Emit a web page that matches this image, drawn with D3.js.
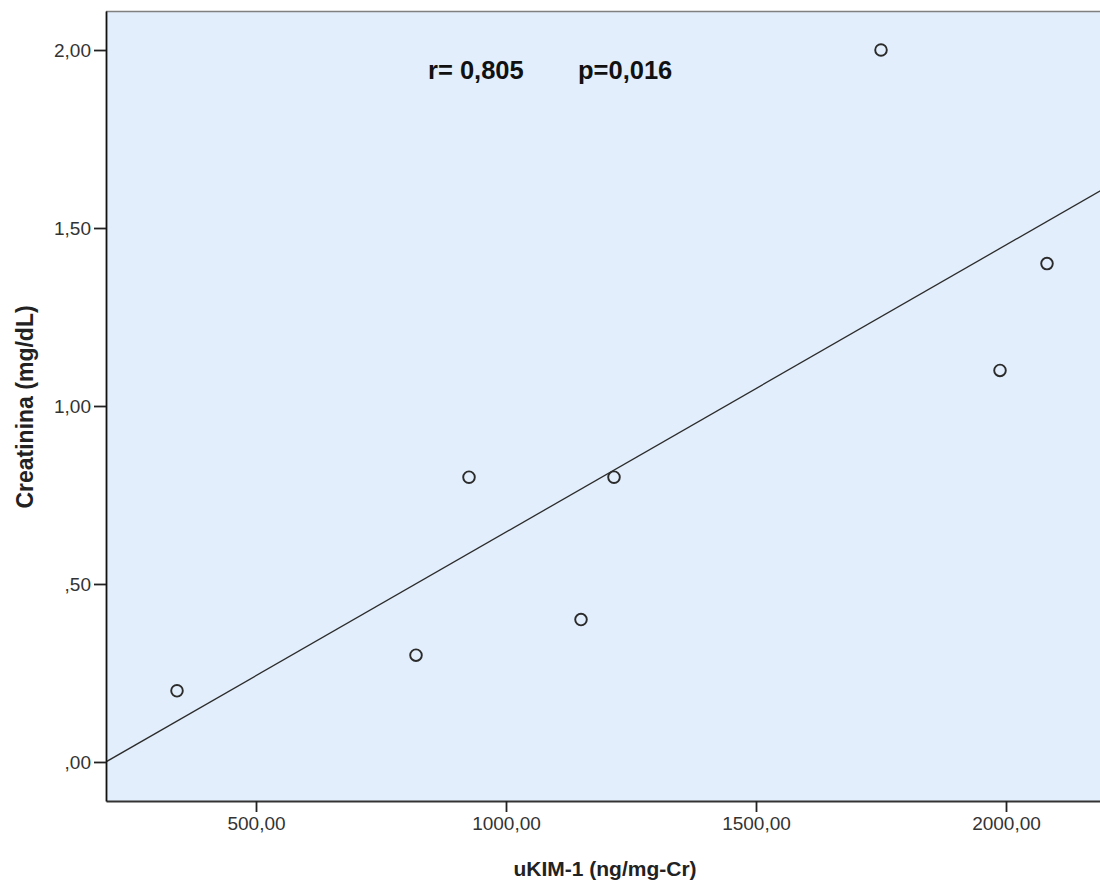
<!DOCTYPE html>
<html>
<head>
<meta charset="utf-8">
<script src="https://cdn.jsdelivr.net/npm/d3@7"></script>
<style>
  html, body { margin: 0; padding: 0; background: #fff; }
  svg { display: block; }
</style>
</head>
<body>
<svg id="chart" width="1100" height="883"></svg>
<script>
// Data
const ukim1 = [342, 820, 926, 1150, 1216, 1750, 1988, 2082];
const creatinina = [0.2, 0.3, 0.8, 0.4, 0.8, 2.0, 1.1, 1.4];
const xTicks = [500, 1000, 1500, 2000];
const yTicks = [0, 0.5, 1.0, 1.5, 2.0];
const annotation = ["r= 0,805", "p=0,016"];
const xTitle = "uKIM-1 (ng/mg-Cr)";
const yTitle = "Creatinina (mg/dL)";

const svg = d3.select("#chart");
const pLeft = 106, pTop = 11, pRight = 1106, pBottom = 801;
const FONT = "Arial, 'Liberation Sans', sans-serif";

const x = d3.scaleLinear().domain([200, 2200]).range([pLeft, pRight]);
const y = d3.scaleLinear().domain([-0.1096, 2.1096]).range([pBottom, pTop]);

// plot background
svg.append("rect")
  .attr("x", pLeft).attr("y", pTop)
  .attr("width", pRight - pLeft).attr("height", pBottom - pTop)
  .attr("fill", "#e2eefb");

// clip
svg.append("clipPath").attr("id", "clip")
  .append("rect").attr("x", pLeft).attr("y", pTop)
  .attr("width", pRight - pLeft).attr("height", pBottom - pTop);

// fit line (least squares)
const mx = d3.mean(ukim1), my = d3.mean(creatinina);
let sxy = 0, sxx = 0;
ukim1.forEach((v, i) => { sxy += (v - mx) * (creatinina[i] - my); sxx += (v - mx) * (v - mx); });
const slope = sxy / sxx, intercept = my - slope * mx;
svg.append("line")
  .attr("clip-path", "url(#clip)")
  .attr("x1", x(200)).attr("y1", y(intercept + slope * 200))
  .attr("x2", x(2200)).attr("y2", y(intercept + slope * 2200))
  .attr("stroke", "#2b2b2b").attr("stroke-width", 1.3);

// points
svg.append("g").selectAll("circle")
  .data(ukim1.map((v, i) => [v, creatinina[i]]))
  .join("circle")
  .attr("cx", d => x(d[0])).attr("cy", d => y(d[1]))
  .attr("r", 5.8)
  .attr("fill", "none")
  .attr("stroke", "#2b2b2b")
  .attr("stroke-width", 1.9);

// frame: top gray border
svg.append("line")
  .attr("x1", pLeft).attr("x2", pRight).attr("y1", pTop + 0.5).attr("y2", pTop + 0.5)
  .attr("stroke", "#808080").attr("stroke-width", 1.5);

const fmt = (v, dec) => {
  let s = v.toFixed(dec).replace(".", ",");
  if (s.startsWith("0,")) s = s.slice(1);
  return s;
};

// x axis
const xAxis = d3.axisBottom(x).tickValues(xTicks).tickSize(11).tickSizeOuter(0).tickPadding(5)
  .tickFormat(d => fmt(d, 2));
const gx = svg.append("g").attr("transform", `translate(0,${pBottom})`).call(xAxis);
gx.select(".domain").attr("stroke", "#333").attr("stroke-width", 1.8);
gx.selectAll(".tick line").attr("stroke", "#222").attr("stroke-width", 1.8);
gx.selectAll("text").attr("fill", "#333").style("font-family", FONT).style("font-size", "19px");

// y axis
const yAxis = d3.axisLeft(y).tickValues(yTicks).tickSize(12).tickSizeOuter(0).tickPadding(3)
  .tickFormat(d => fmt(d, 2));
const gy = svg.append("g").attr("transform", `translate(${pLeft},0)`).call(yAxis);
gy.select(".domain").attr("stroke", "#111").attr("stroke-width", 1.8);
gy.selectAll(".tick line").attr("stroke", "#222").attr("stroke-width", 1.8);
gy.selectAll("text").attr("fill", "#333").style("font-family", FONT).style("font-size", "19px");

// annotation
svg.append("text").attr("x", 428).attr("y", 79).text(annotation[0])
  .style("font-family", FONT).style("font-size", "25.5px").style("font-weight", "bold").attr("fill", "#111");
svg.append("text").attr("x", 578).attr("y", 79).text(annotation[1])
  .style("font-family", FONT).style("font-size", "25.5px").style("font-weight", "bold").attr("fill", "#111");

// axis titles
svg.append("text").attr("x", 605).attr("y", 876).attr("text-anchor", "middle").text(xTitle)
  .style("font-family", FONT).style("font-size", "21px").style("font-weight", "bold").attr("fill", "#222");
svg.append("text").attr("transform", `translate(33,407) rotate(-90)`).attr("text-anchor", "middle").text(yTitle)
  .style("font-family", FONT).style("font-size", "23px").style("font-weight", "bold").attr("fill", "#222");
</script>
</body>
</html>
